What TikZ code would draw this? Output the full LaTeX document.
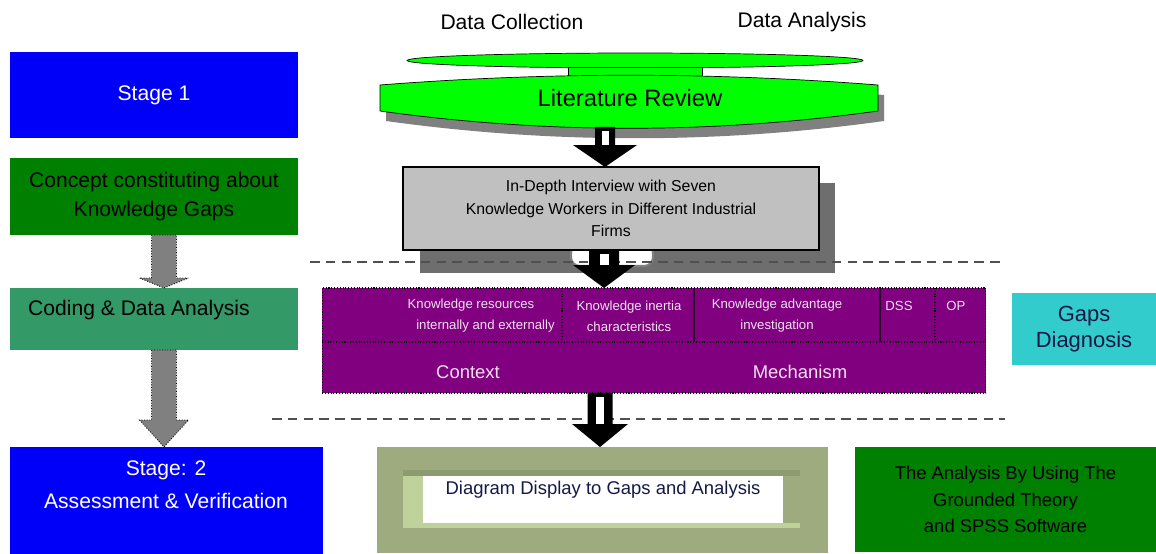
\documentclass[tikz,border=0pt]{standalone}
\usepackage{fontspec}
\setmainfont{Liberation Sans}
\usetikzlibrary{calc}

\definecolor{stageblue}{RGB}{0,0,250}
\definecolor{conceptgreen}{RGB}{0,128,0}
\definecolor{codinggreen}{RGB}{51,153,102}
\definecolor{gapcyan}{RGB}{51,204,204}
\definecolor{diagpurple}{RGB}{128,0,128}
\definecolor{litgreen}{RGB}{0,255,0}
\definecolor{litshadow}{RGB}{128,128,128}
\definecolor{ivgray}{RGB}{192,192,192}
\definecolor{ivshadow}{RGB}{110,110,110}
\definecolor{olive}{RGB}{157,171,127}
\definecolor{olivelight}{RGB}{192,210,155}
\definecolor{olivedark}{RGB}{140,155,112}
\definecolor{sepgray}{RGB}{80,80,80}
\definecolor{navytext}{RGB}{20,25,70}

\newcommand{\blockarrow}[6]{%
  \path[#1] let \p1=(#2), \p2=(#3) in
    (\x1-#4,\y1) -- (\x1+#4,\y1) -- (\x1+#4,\y2+#6) -- (\x1+#5,\y2+#6)
    -- (\x1,\y2) -- (\x1-#5,\y2+#6) -- (\x1-#4,\y2+#6) -- cycle;}
\newcommand{\hollowarrow}[6]{%
  \blockarrow{fill=black}{#1}{#2}{#3}{#4}{#5}
  \fill[white] let \p1=(#1), \p2=(#2) in
    (\x1-#6,\y1-0.08cm) rectangle (\x1+#6,\y2+#5);}

\begin{document}
\begin{tikzpicture}[x=0.02cm,y=-0.02cm,
    box/.style={rectangle,inner sep=0pt,outer sep=0pt,align=center},
    stagebox/.style={box,fill=stageblue,text=white,font=\fontsize{12}{19}\selectfont},
    greenbox/.style={box,fill=conceptgreen,font=\fontsize{12}{16.4}\selectfont},
    grayarrow/.style={fill=litshadow,draw=black,densely dotted,line width=0.5pt},
    sepline/.style={sepgray,line width=1.4pt,dash pattern=on 5.5pt off 3.5pt},
    cellline/.style={black,densely dotted,line width=0.6pt},
    celltext/.style={text=white!88!diagpurple,font=\fontsize{7.5}{12}\selectfont,align=center}]
    \useasboundingbox (0,0) rectangle (1156,554);

    \node[font=\fontsize{12}{14}\selectfont] at (512,22) (collect) {Data Collection};
    \node[font=\fontsize{12}{14}\selectfont] at (802,22) (analyse) {Data Analysis};

    \draw[fill=litgreen] (635,60.5) ellipse [x radius=4.56cm, y radius=0.15cm];
    \draw[fill=litgreen] (568,67) rectangle (702,77);
    \fill[litshadow] (386,95) .. controls (552,82) and (718,82) .. (884,95) -- (884,121)
        .. controls (718,144) and (552,144) .. (386,121) -- cycle;
    \draw[fill=litgreen] (380,85) .. controls (546,72) and (712,72) .. (878,85) -- (878,111)
        .. controls (712,134) and (546,134) .. (380,111) -- cycle;
    \node[font=\fontsize{13.5}{16}\selectfont] at (630,98) (litrev) {Literature Review};
    \coordinate (litbot) at (605,127);

    \node[stagebox, minimum width=5.76cm, minimum height=1.72cm] at (154,95) (stage1) {Stage 1};
    \node[greenbox, minimum width=5.76cm, minimum height=1.54cm] at (154,196.5) (concept) {Concept constituting about\\Knowledge Gaps};
    \node[box, fill=codinggreen, minimum width=5.76cm, minimum height=1.24cm] at (154,319) (coding) {};
    \node[font=\fontsize{12}{14}\selectfont, anchor=west] at (22,310) (codingtext) {Coding \& Data Analysis};
    \node[box, fill=stageblue, minimum width=6.26cm, minimum height=2.14cm] at (166.5,500.5) (stage2) {};
    \node[stagebox, fill=none] at (166,485) (stage2text) {Stage: 2\\Assessment \& Verification};

    \blockarrow{grayarrow}{$(concept.south)+(10,0)$}{coding.north}{0.25cm}{0.49cm}{0.2cm}
    \blockarrow{grayarrow}{$(coding.south)+(10,0)$}{stage2.north}{0.25cm}{0.49cm}{0.54cm}

    \fill[ivshadow] (420,183) rectangle (835,273);
    \draw[gray, line width=1.2pt, fill=white, rounded corners=5pt] (571,244) rectangle (653,266);
    \node[box, fill=ivgray, draw=black, line width=0.8pt, minimum width=8.32cm, minimum height=1.66cm,
        font=\fontsize{9}{13}\selectfont] at (611,208.5) (interview)
        {In-Depth Interview with Seven\\Knowledge Workers in Different Industrial\\Firms};

    \coordinate (sep1a) at (310,262);
    \coordinate (sep1b) at (1005,262);
    \coordinate (sep2a) at (272,419);
    \coordinate (sep2b) at (1005,419);
    \draw[sepline] (sep1a) -- (sep1b);
    \draw[sepline] (sep2a) -- (sep2b);

    \node[box, fill=diagpurple, draw=black, densely dotted, line width=0.6pt,
        minimum width=13.28cm, minimum height=2.1cm] at (654,340.5) (diag) {};
    \draw[cellline] (322,342) -- (986,342);
    \draw[cellline] (562,288) -- (562,342);
    \draw[black!70!diagpurple, line width=0.8pt] (694,288) -- (694,342);
    \draw[black!70!diagpurple, line width=0.8pt] (880,288) -- (880,342);
    \draw[cellline] (935,288) -- (935,342);
    \node[celltext] at (471,316) (resources) {Knowledge resources\\\hspace*{2.2em}internally and externally};
    \node[celltext] at (629,316) (inertia) {Knowledge inertia\\characteristics};
    \node[celltext] at (777,316) (advantage) {Knowledge advantage\\investigation};
    \node[celltext] at (899,306) (dss) {DSS};
    \node[celltext] at (956,306) (op) {OP};
    \node[celltext, font=\fontsize{10.5}{12}\selectfont] at (468,372) (context) {Context};
    \node[celltext, font=\fontsize{10.5}{12}\selectfont] at (800,372) (mechanism) {Mechanism};

    \node[box, fill=gapcyan, text=navytext, minimum width=2.88cm, minimum height=1.44cm,
        font=\fontsize{12.5}{14.7}\selectfont] at (1084,329) (gaps) {Gaps\\Diagnosis};

    \node[box, fill=olive, minimum width=9.02cm, minimum height=2.12cm] at (602.5,500) (display) {};
    \fill[olivedark] (403,470) rectangle (800,528);
    \fill[olivelight] (403,476) rectangle (423,528);
    \fill[olivelight] (403,523) rectangle (800,528);
    \fill[olive] (783,476) rectangle (800,523);
    \node[box, fill=white, minimum width=7.2cm, minimum height=0.94cm] at (603,499.5) (displayin) {};
    \node[text=navytext, font=\fontsize{10.5}{12}\selectfont] at (603,490) (displaytext) {Diagram Display to Gaps and Analysis};

    \node[greenbox, minimum width=6.02cm, minimum height=2.1cm, font=\fontsize{10.5}{15.3}\selectfont]
        at (1005.5,499.5) (software) {The Analysis By Using The\\Grounded Theory\\and SPSS Software};

    \hollowarrow{litbot}{interview.north}{0.2cm}{0.64cm}{0.44cm}{0.07cm}
    \hollowarrow{$(interview.south)+(-7,0)$}{diag.north}{0.3cm}{0.62cm}{0.46cm}{0.09cm}
    \hollowarrow{$(diag.south)+(-54,0)$}{display.north}{0.25cm}{0.56cm}{0.46cm}{0.08cm}
\end{tikzpicture}
\end{document}
